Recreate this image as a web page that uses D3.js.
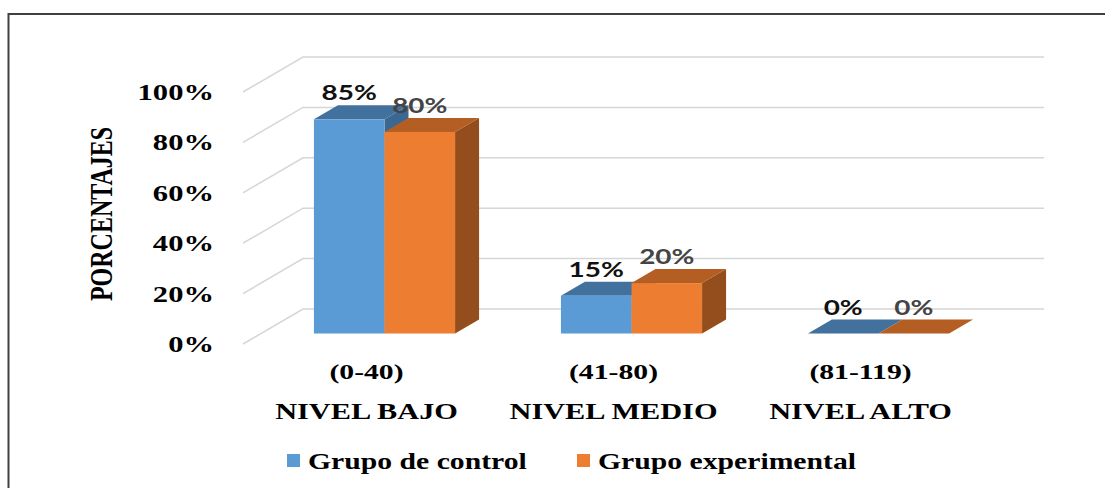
<!DOCTYPE html>
<html>
<head>
<meta charset="utf-8">
<script src="https://cdn.jsdelivr.net/npm/d3@7"></script>
<style>
  body { margin: 0; background: #fff; }
  svg { display: block; }
</style>
</head>
<body>
<script>
// chart data
var categories = ["NIVEL BAJO", "NIVEL MEDIO", "NIVEL ALTO"];
var ranges = ["(0-40)", "(41-80)", "(81-119)"];
var series = ["Grupo de control", "Grupo experimental"];
var control = [85, 15, 0];
var experimental = [80, 20, 0];
var yTicks = [0, 20, 40, 60, 80, 100];

var W = 1105, H = 488;
var depthX = 60, depthY = 35;   // 3d wall depth
var z0 = 0.3, z1 = 0.7;          // bars sit in the middle of the depth
var stretch = 1.35;              // the picture is wider than tall

var svg = d3.select("body").append("svg")
  .attr("width", W)
  .attr("height", H);

// frame
svg.append("rect")
  .attr("x", 8.5).attr("y", 14)
  .attr("width", 1110).attr("height", 500)
  .attr("fill", "none")
  .attr("stroke", "#404040")
  .attr("stroke-width", 2);

// scales (front plane)
var x0 = d3.scaleBand()
  .domain(categories)
  .range([243, 984])
  .padding(0);

var x1 = d3.scaleBand()
  .domain(series)
  .range([0, x0.bandwidth()])
  .paddingInner(0)
  .paddingOuter(0.75);

var y = d3.scaleLinear()
  .domain([0, 100])
  .range([344, 92]);

var colors = {
  "Grupo de control": {front: "#5B9BD5", top: "#41719C", side: "#3A6893", label: "#111111"},
  "Grupo experimental": {front: "#ED7D31", top: "#B45E23", side: "#944D1C", label: "#444444"}
};

// gridlines: left diagonal + back wall line
var grid = svg.append("g");
yTicks.forEach(function(t) {
  var yf = y(t);
  grid.append("path")
    .attr("d", "M" + x0.range()[0] + "," + yf +
               "L" + (x0.range()[0] + depthX) + "," + (yf - depthY) +
               "L" + (x0.range()[1] + depthX) + "," + (yf - depthY))
    .attr("fill", "none")
    .attr("stroke", "#D6D6D6")
    .attr("stroke-width", 1.5);
});

function stretchedText(g, x, yy, txt, sx) {
  return g.append("text")
    .attr("transform", "translate(" + x + "," + yy + ") scale(" + sx + ",1)")
    .text(txt);
}

var axisG = svg.append("g")
  .attr("font-family", "'Liberation Serif', 'Times New Roman', serif")
  .attr("font-weight", "bold")
  .attr("font-size", 22)
  .attr("fill", "#000");

// tick labels
yTicks.forEach(function(t) {
  stretchedText(axisG, 214, y(t) + 8, t + "%", 1.33)
    .attr("font-size", 23)
    .attr("text-anchor", "end");
});

// y axis title
axisG.append("text")
  .attr("transform", "translate(112,214) scale(" + stretch + ",1) rotate(-90)")
  .attr("text-anchor", "middle")
  .attr("font-size", 24)
  .text("PORCENTAJES");

// bars
var rows = [];
categories.forEach(function(c, i) {
  rows.push({cat: c, s: series[0], v: control[i]});
  rows.push({cat: c, s: series[1], v: experimental[i]});
});

var barsG = svg.append("g");
rows.forEach(function(d) {
  var xl = x0(d.cat) + x1(d.s) + z0 * depthX;
  var xr = xl + x1.bandwidth();
  var yb = y(0) - z0 * depthY;
  var yt = y(d.v) - z0 * depthY;
  var dx = (z1 - z0) * depthX, dy = (z1 - z0) * depthY;
  var col = colors[d.s];
  // side
  barsG.append("path")
    .attr("d", "M" + xr + "," + yb + "L" + xr + "," + yt + "L" + (xr + dx) + "," + (yt - dy) +
               "L" + (xr + dx) + "," + (yb - dy) + "Z")
    .attr("fill", col.side);
  // top
  barsG.append("path")
    .attr("d", "M" + xl + "," + yt + "L" + xr + "," + yt + "L" + (xr + dx) + "," + (yt - dy) +
               "L" + (xl + dx) + "," + (yt - dy) + "Z")
    .attr("fill", col.top);
  // front
  if (d.v > 0) {
    barsG.append("rect")
      .attr("x", xl).attr("y", yt)
      .attr("width", xr - xl).attr("height", yb - yt)
      .attr("fill", col.front);
  }
});

// data labels
var labG = svg.append("g")
  .attr("font-family", "Lato, 'Open Sans', sans-serif")
  .attr("font-weight", "bold")
  .attr("font-size", 21);
rows.forEach(function(d) {
  var cx = x0(d.cat) + x1(d.s) + x1.bandwidth() / 2 + z0 * depthX;
  var yy = y(d.v) - z1 * depthY - 5;
  stretchedText(labG, cx, yy, d.v + "%", 1.33)
    .attr("text-anchor", "middle")
    .attr("fill", colors[d.s].label);
});

// category labels
categories.forEach(function(c, i) {
  var cx = x0(c) + x0.bandwidth() / 2;
  stretchedText(axisG, cx, 379, ranges[i], stretch).attr("text-anchor", "middle");
  stretchedText(axisG, cx, 419, c, 1.29).attr("font-size", 23.5).attr("text-anchor", "middle");
});

// legend
var legendX = [287, 577];
series.forEach(function(s, i) {
  svg.append("rect")
    .attr("x", legendX[i]).attr("y", 454)
    .attr("width", 13).attr("height", 13)
    .attr("fill", colors[s].front);
  stretchedText(axisG, legendX[i] + 21, 469, s, 1.32).attr("font-size", 22.5);
});
</script>
</body>
</html>
